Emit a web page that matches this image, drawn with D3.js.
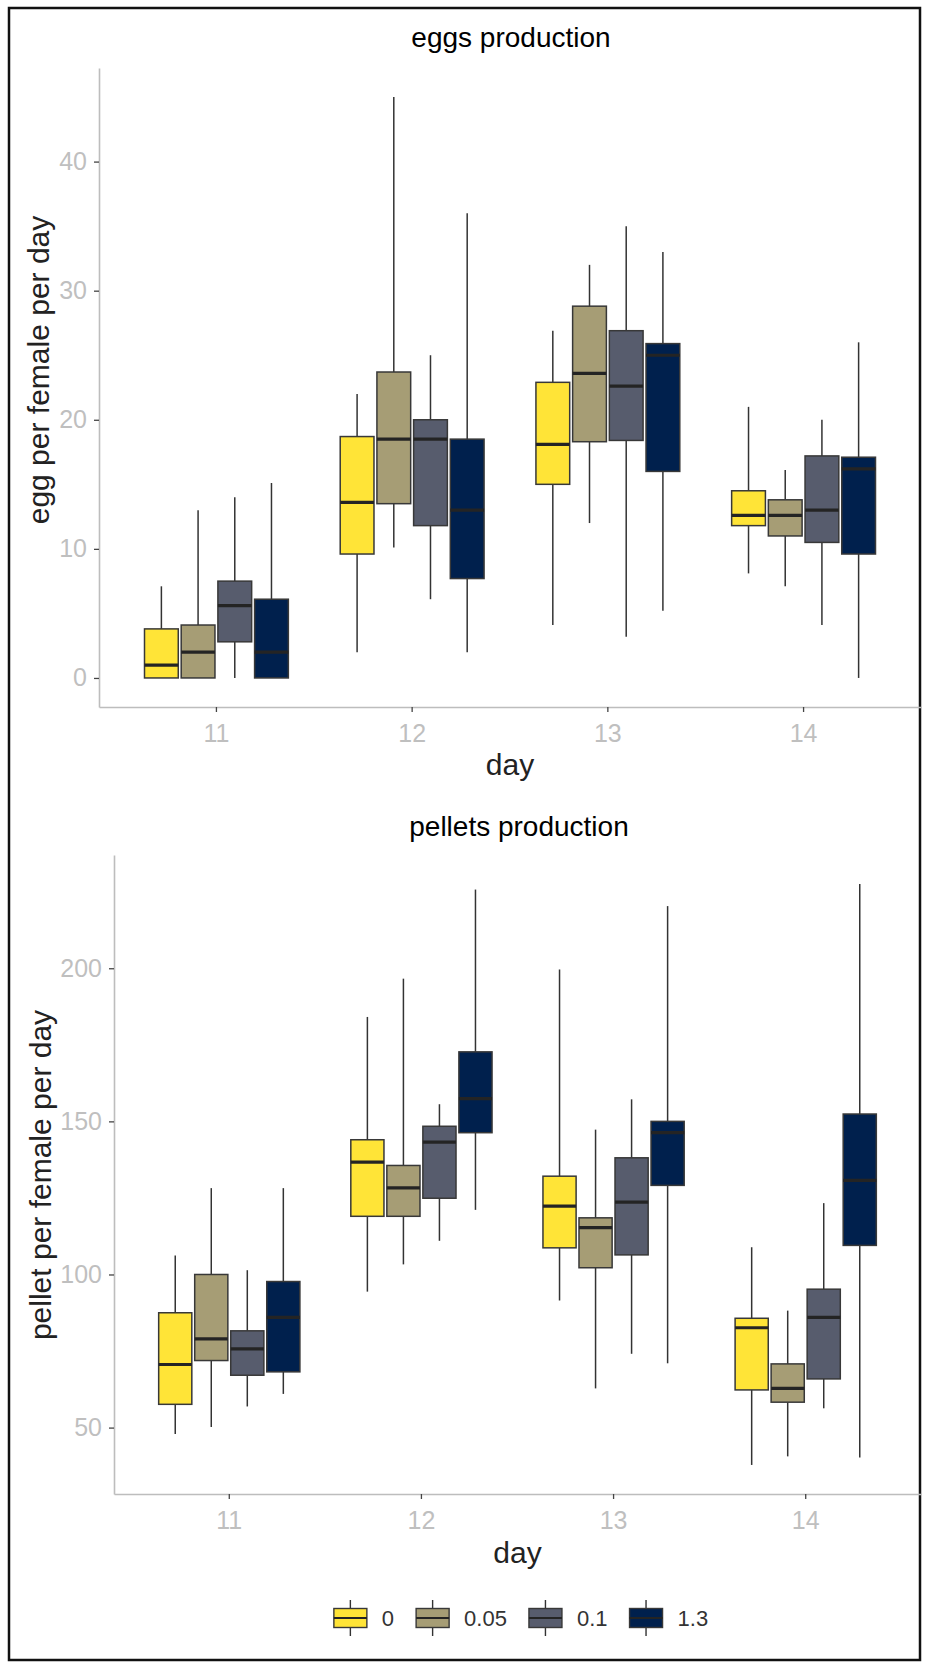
<!DOCTYPE html>
<html>
<head>
<meta charset="utf-8">
<title>eggs and pellets production</title>
<script src="https://d3js.org/d3.v7.min.js"></script>
<style>
  body { margin: 0; background: #fff; }
  svg text { font-family: "Liberation Sans", Arial, sans-serif; }
  .axis .domain { stroke: #bdbdbd; stroke-width: 1.6px; }
  .axis .tick line { stroke: #444; stroke-width: 1.3px; }
  .axis .tick text { fill: #bfbfbf; font-size: 25px; }
  .ptitle { font-size: 28px; fill: #000; }
  .atitle { font-size: 30px; fill: #222; }
  .legend text { font-size: 22px; fill: #333; }
</style>
</head>
<body>
<script>
// groups
var days = ["11", "12", "13", "14"];
var doses = ["0", "0.05", "0.1", "1.3"];
var doseColors = ["#FFE437", "#A69D75", "#575C6D", "#00204D"];

// eggs: rows = day, cols = dose
var eggLow  = [[0, 0, 0, 0], [2, 10.1, 6.1, 2], [4.1, 12, 3.2, 5.2], [8.1, 7.1, 4.1, 0]];
var eggQ1   = [[0, 0, 2.8, 0], [9.6, 13.5, 11.8, 7.7], [15, 18.3, 18.4, 16], [11.8, 11, 10.5, 9.6]];
var eggMed  = [[1, 2, 5.6, 2], [13.6, 18.5, 18.5, 13], [18.1, 23.6, 22.6, 25], [12.6, 12.6, 13, 16.2]];
var eggQ3   = [[3.8, 4.1, 7.5, 6.1], [18.7, 23.7, 20, 18.5], [22.9, 28.8, 26.9, 25.9], [14.5, 13.8, 17.2, 17.1]];
var eggHigh = [[7.1, 13, 14, 15.1], [22, 45, 25, 36], [26.9, 32, 35, 33], [21, 16.1, 20, 26]];
var eggTicks = [0, 10, 20, 30, 40];

// pellets
var pelLow  = [[47.9, 50.2, 56.9, 61], [94.4, 103.3, 111, 121.1], [91.5, 62.8, 74.1, 71], [37.8, 40.6, 56.3, 40.2]];
var pelQ1   = [[57.6, 71.9, 67.1, 68.2], [119, 119, 124.9, 146.3], [108.7, 102.2, 106.4, 129.1], [62.3, 58.3, 65.9, 109.5]];
var pelMed  = [[70.6, 79, 75.7, 86], [136.7, 128.3, 143.2, 157.4], [122.3, 115.3, 123.6, 146.3], [82.6, 62.8, 86, 130.7]];
var pelQ3   = [[87.5, 100, 81.6, 97.7], [144, 135.6, 148.4, 172.7], [132.1, 118.5, 138.1, 150], [85.7, 70.8, 95.2, 152.4]];
var pelHigh = [[106.2, 128.2, 101.4, 128.2], [184.1, 196.6, 155.6, 225.7], [199.6, 147.3, 157.2, 220.3], [108.9, 88.2, 123.3, 227.5]];
var pelTicks = [50, 100, 150, 200];

var W = 929, H = 1666;

var svg = d3.select("body").append("svg")
    .attr("width", W)
    .attr("height", H);

svg.append("rect")
    .attr("width", W).attr("height", H)
    .attr("fill", "#fff");

// frame round the whole figure
svg.append("rect")
    .attr("x", 9).attr("y", 8)
    .attr("width", 911).attr("height", 1652)
    .attr("fill", "none")
    .attr("stroke", "#111")
    .attr("stroke-width", 2.5);

function toRows(low, q1, med, q3, high) {
    var rows = [];
    days.forEach(function (d, i) {
        doses.forEach(function (g, j) {
            rows.push({ day: d, dose: g, k: j,
                low: low[i][j], q1: q1[i][j], med: med[i][j], q3: q3[i][j], high: high[i][j] });
        });
    });
    return rows;
}

function panel(p) {
    var data = toRows.apply(null, p.stats);
    var vals = data.map(function (d) { return d.low; }).concat(data.map(function (d) { return d.high; }));
    var lo = d3.min(vals), hi = d3.max(vals), pad = (hi - lo) * 0.05;

    var x = d3.scaleBand()
        .domain(days)
        .range([p.left, p.right])
        .paddingInner(0)
        .paddingOuter(0.1);
    var step = x.step();
    var xd = d3.scaleBand()
        .domain(doses)
        .range([-0.375 * step, 0.375 * step])
        .paddingInner(0.08)
        .paddingOuter(0.04);
    var y = d3.scaleLinear()
        .domain([lo - pad, hi + pad])
        .range([p.bottom, p.top]);

    var g = svg.append("g");

    g.append("text")
        .attr("class", "ptitle")
        .attr("x", p.titleX)
        .attr("y", p.titleY)
        .attr("text-anchor", "middle")
        .text(p.title);

    g.append("g")
        .attr("class", "axis")
        .attr("transform", "translate(" + p.left + ",0)")
        .call(d3.axisLeft(y).tickValues(p.ticks).tickSize(5).tickSizeOuter(0).tickPadding(7));

    g.append("g")
        .attr("class", "axis")
        .attr("transform", "translate(0," + p.bottom + ")")
        .call(d3.axisBottom(x).tickSize(5).tickSizeOuter(0).tickPadding(12));

    g.append("text")
        .attr("class", "atitle")
        .attr("x", (p.left + p.right) / 2)
        .attr("y", p.xTitleY)
        .attr("text-anchor", "middle")
        .text("day");

    g.append("text")
        .attr("class", "atitle")
        .attr("transform", "translate(" + p.yTitleX + "," + p.yTitleY + ") rotate(-90)")
        .attr("text-anchor", "middle")
        .text(p.ytitle);

    var cx = function (d) { return x(d.day) + step / 2 + xd(d.dose) + xd.bandwidth() / 2; };
    var bw = xd.bandwidth();

    var box = g.selectAll(".box")
        .data(data)
        .enter()
        .append("g")
        .attr("class", "box");

    // whiskers
    box.append("line")
        .attr("x1", cx).attr("x2", cx)
        .attr("y1", function (d) { return y(d.high); })
        .attr("y2", function (d) { return y(d.q3); })
        .attr("stroke", "#333").attr("stroke-width", 1.5);
    box.append("line")
        .attr("x1", cx).attr("x2", cx)
        .attr("y1", function (d) { return y(d.q1); })
        .attr("y2", function (d) { return y(d.low); })
        .attr("stroke", "#333").attr("stroke-width", 1.5);

    box.append("rect")
        .attr("x", function (d) { return cx(d) - bw / 2; })
        .attr("y", function (d) { return y(d.q3); })
        .attr("width", bw)
        .attr("height", function (d) { return y(d.q1) - y(d.q3); })
        .attr("fill", function (d) { return doseColors[d.k]; })
        .attr("stroke", "#383838")
        .attr("stroke-width", 1.5);

    box.append("line")
        .attr("x1", function (d) { return cx(d) - bw / 2; })
        .attr("x2", function (d) { return cx(d) + bw / 2; })
        .attr("y1", function (d) { return y(d.med); })
        .attr("y2", function (d) { return y(d.med); })
        .attr("stroke", "#242424").attr("stroke-width", 3.2);
}

panel({
    left: 99, right: 921, top: 68, bottom: 707,
    stats: [eggLow, eggQ1, eggMed, eggQ3, eggHigh],
    ticks: eggTicks,
    title: "eggs production", titleX: 511, titleY: 47,
    xTitleY: 775,
    ytitle: "egg per female per day", yTitleX: 49, yTitleY: 370
});

panel({
    left: 114, right: 921, top: 855, bottom: 1494,
    stats: [pelLow, pelQ1, pelMed, pelQ3, pelHigh],
    ticks: pelTicks,
    title: "pellets production", titleX: 519, titleY: 836,
    xTitleY: 1563,
    ytitle: "pellet per female per day", yTitleX: 51, yTitleY: 1175
});

// legend
var leg = svg.append("g").attr("class", "legend");
var keyW = 33, keyH = 19, ly = 1618;
var items = leg.selectAll(".item")
    .data(doses)
    .enter()
    .append("g")
    .attr("class", "item");

items.append("line")
    .attr("x1", keyW / 2).attr("x2", keyW / 2)
    .attr("y1", -18).attr("y2", 18)
    .attr("stroke", "#333").attr("stroke-width", 1.4);
items.append("rect")
    .attr("x", 0).attr("y", -keyH / 2)
    .attr("width", keyW).attr("height", keyH)
    .attr("fill", function (d, i) { return doseColors[i]; })
    .attr("stroke", "#383838").attr("stroke-width", 1.4);
items.append("line")
    .attr("x1", 0).attr("x2", keyW)
    .attr("y1", 0).attr("y2", 0)
    .attr("stroke", "#242424").attr("stroke-width", 2.2);
items.append("text")
    .attr("x", keyW + 15)
    .attr("y", 8)
    .text(function (d) { return d; });

var pos = 0;
items.each(function () {
    var t = d3.select(this).select("text").node().getComputedTextLength();
    d3.select(this).attr("data-x", pos);
    pos += keyW + 15 + t + 22;
});
var total = pos - 22, x0 = 521 - total / 2;
items.attr("transform", function () {
    return "translate(" + (x0 + (+this.getAttribute("data-x"))) + "," + ly + ")";
});
</script>
</body>
</html>
